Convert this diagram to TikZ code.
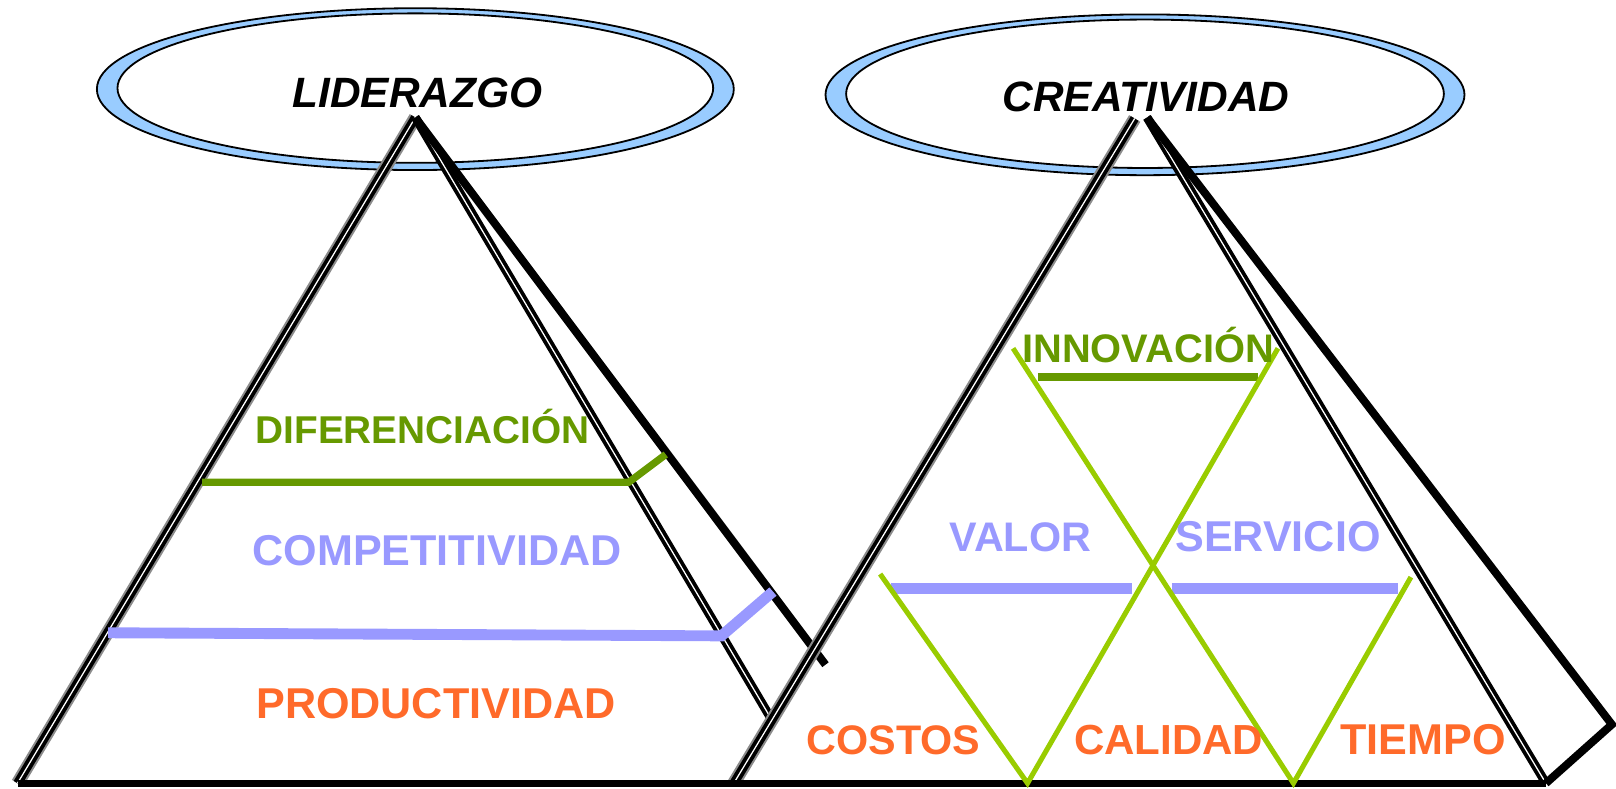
\documentclass[tikz,border=0pt]{standalone}
\usepackage{fontspec}
\setmainfont{Liberation Sans}
\definecolor{ringblue}{HTML}{99CCFF}
\definecolor{leafgreen}{HTML}{669900}
\definecolor{limegreen}{HTML}{99CC00}
\definecolor{lilac}{HTML}{9999FF}
\definecolor{tangerine}{HTML}{FF6A2A}

\begin{document}
\begin{tikzpicture}[x=0.01cm, y=-0.01cm,
  ring/.style={draw=black, line width=0.5pt, fill=ringblue},
  face/.style={draw=black, line width=0.5pt, fill=white},
  edgeshade/.style={draw=black!45, line width=3.6pt},
  edgeline/.style={double=white, double distance=0.35pt, line width=1.05pt},
  side/.style={line width=2.2pt},
  title/.style={anchor=base, font=\bfseries\itshape\fontsize{11.7}{13}\selectfont},
  lvl/.style={anchor=base, font=\bfseries\fontsize{#1}{14}\selectfont},
  lvl/.default=11.9]

\useasboundingbox (0,0) rectangle (1568,765);

\draw[ring] (403,86.5) ellipse [x radius=309, y radius=78.5];
\draw[face] (403,85.5) ellipse [x radius=289, y radius=72.5];
\draw[ring] (1111,92) ellipse [x radius=310, y radius=78];
\draw[face] (1111,91) ellipse [x radius=290, y radius=72];

\coordinate (lTop) at (403,114);
\coordinate (lLeft) at (17,760);
\coordinate (lRight) at (748,697);
\coordinate (lBack) at (801,645);
\coordinate (rTopA) at (1101,115);
\coordinate (rTopB) at (1113,114);
\coordinate (rLeft) at (712,760);
\coordinate (rRight) at (1500,760);
\coordinate (rBack) at (1564,703);

\draw[edgeshade] (lTop) -- (lLeft);
\draw[edgeline] (lTop) -- (lLeft);
\draw[edgeline] (lTop) -- (lRight);
\draw[side] (lTop) -- (lBack);

\draw[edgeshade] (rTopA) -- (rLeft);
\draw[edgeline] (rTopA) -- (rLeft);
\draw[edgeline] (rTopB) -- (rRight);
\draw[side, line join=miter] (rTopB) -- (rBack) -- (rRight);

\draw[line width=1.8pt] (lLeft) -- (rRight);

\draw[leafgreen, line width=2pt] (196,468) -- (610,468) -- (646,441);
\draw[lilac, line width=3pt] (105,614) -- (700,617) -- (750,574);

\draw[leafgreen, line width=2.2pt] (1007,366) -- (1221,366);
\draw[lilac, line width=3pt] (865,571) -- (1098,571);
\draw[lilac, line width=3pt] (1137,571) -- (1356,571);
\draw[limegreen, line width=1.4pt] (983,338) -- (1255,760) -- (1369,560);
\draw[limegreen, line width=1.4pt] (1240,338) -- (997,760) -- (854,557);

\node[title] (lead) at (405,104) {LIDERAZGO};
\node[title] (crea) at (1112,108.5) {CREATIVIDAD};

\node[lvl=10.7, text=leafgreen] (dif) at (410,430) {DIFERENCIACIÓN};
\node[lvl, text=lilac] (comp) at (424,549) {COMPETITIVIDAD};
\node[lvl, text=tangerine] (prod) at (423,697) {PRODUCTIVIDAD};

\node[lvl=11, text=leafgreen] (innov) at (1114,352) {INNOVACIÓN};
\node[lvl=11.4, text=lilac] (valor) at (990,535) {VALOR};
\node[lvl, text=lilac] (serv) at (1240,535) {SERVICIO};
\node[lvl=11.4, text=tangerine] (cost) at (867,732) {COSTOS};
\node[lvl=11.6, text=tangerine] (cal) at (1134,732) {CALIDAD};
\node[lvl, text=tangerine] (tiempo) at (1381,732) {TIEMPO};
\end{tikzpicture}
\end{document}
